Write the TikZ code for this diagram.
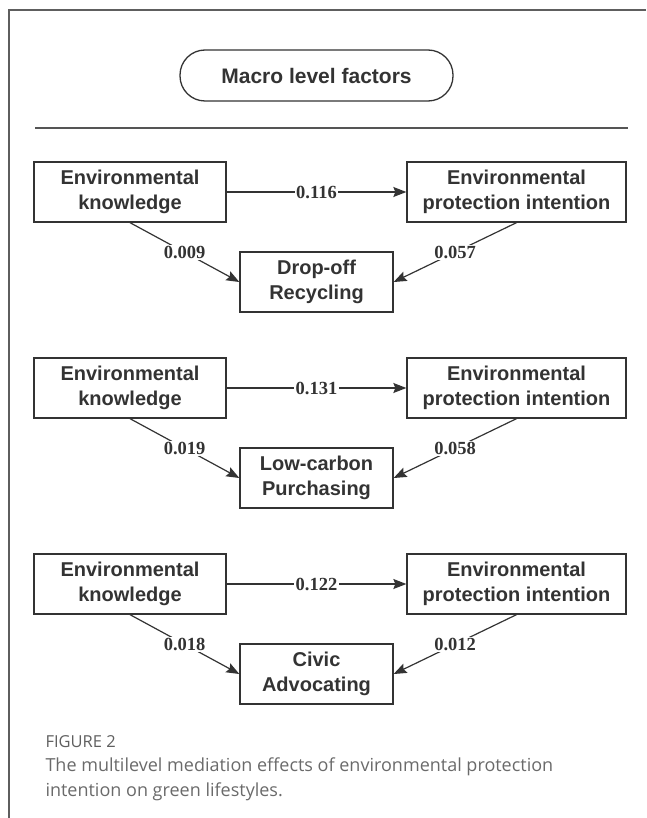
\documentclass[tikz,border=0pt]{standalone}
\usepackage{fontspec}
\setmainfont{Liberation Sans}
\newfontfamily\numfont{Liberation Serif}
\newfontfamily\capfont{Open Sans}
\usetikzlibrary{arrows.meta}
\definecolor{ink}{HTML}{333333}
\definecolor{framegray}{HTML}{5E5E5E}
\definecolor{rulegray}{HTML}{555555}
\definecolor{capgray}{HTML}{6A6A6A}
\begin{document}
\begin{tikzpicture}[x=1pt,y=-1pt,
  box/.style={draw=ink, line width=1.3pt, text=ink, font=\fontsize{20}{25}\selectfont\bfseries, align=center, inner sep=0pt, minimum height=60pt},
  coef/.style={fill=white, text=ink, font=\numfont\fontsize{18.5}{18.5}\selectfont\bfseries, inner sep=1.5pt},
  link/.style={draw=ink, line width=1.2pt, -{Stealth[length=13pt,width=10pt,inset=2pt]}},
  captext/.style={anchor=base west, text=capgray, font=\capfont\fontsize{18}{18}\selectfont}]
\useasboundingbox (0,0) rectangle (646,818);
% card frame
\draw[framegray, line width=1.3pt] (646,10) -- (9,10) -- (9,818);
% header
\node[draw=ink, line width=1.3pt, rounded corners=25pt, minimum width=273pt, minimum height=51pt, inner sep=0pt, text=ink, font=\fontsize{21}{21}\selectfont\bfseries] (macro) at (316.5,75.5) {Macro level factors};
\draw[rulegray, line width=2pt] (35,128) -- (628,128);
% three mediation blocks
\foreach \yy/\a/\b/\c/\mtext/\i in {
    192/0.116/0.009/0.057/{Drop-off\\Recycling}/1,
    388/0.131/0.019/0.058/{Low-carbon\\Purchasing}/2,
    584/0.122/0.018/0.012/{Civic\\Advocating}/3}{
  \node[box, minimum width=192pt] (ek\i) at (130,\yy) {Environmental\\knowledge};
  \node[box, minimum width=219pt] (ep\i) at (516.5,\yy) {Environmental\\protection intention};
  \node[box, minimum width=153pt] (out\i) at (316.5,\yy+90) {\mtext};
  \draw[link] (ek\i) -- node[coef]{\a} (ep\i);
  \draw[link] (ek\i.south) -- node[coef]{\b} (out\i.west);
  \draw[link] (ep\i.south) -- node[coef]{\c} (out\i.east);
}
% caption
\node[anchor=base west, text=capgray!90!black, font=\capfont\fontsize{16.5}{16.5}\selectfont] (figlab) at (42,747) {FIGURE 2};
\node[captext] (cap1) at (42,771) {The multilevel mediation effects of environmental protection};
\node[captext] (cap2) at (42,796) {intention on green lifestyles.};
\end{tikzpicture}
\end{document}
